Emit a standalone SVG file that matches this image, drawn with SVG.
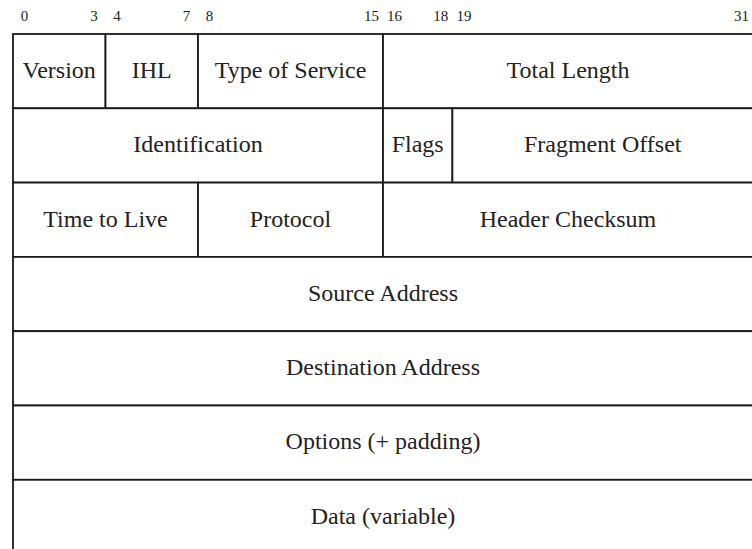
<svg xmlns="http://www.w3.org/2000/svg" width="752" height="549" viewBox="0 0 752 549">
<style>
.cell{fill:#ffffff;stroke:#1a1a1a;stroke-width:1.8}
.lbl{font-family:"Liberation Serif","DejaVu Serif",serif;font-size:24px;fill:#222222;text-anchor:middle}
.bit{font-family:"Liberation Serif","DejaVu Serif",serif;font-size:15px;fill:#222222;text-anchor:middle}
</style>
<rect x="0" y="0" width="752" height="549" fill="#ffffff"/>
<g id="bit-numbers">
<text class="bit" x="24.6" y="21">0</text>
<text class="bit" x="94" y="21">3</text>
<text class="bit" x="117" y="21">4</text>
<text class="bit" x="186.4" y="21">7</text>
<text class="bit" x="209.6" y="21">8</text>
<text class="bit" x="371.4" y="21">15</text>
<text class="bit" x="394.5" y="21">16</text>
<text class="bit" x="440.8" y="21">18</text>
<text class="bit" x="463.9" y="21">19</text>
<text class="bit" x="741.4" y="21">31</text>
</g>
<g id="version"><rect class="cell" x="13" y="34" width="92.5" height="74.3"/><text class="lbl" x="59.2" y="78">Version</text></g>
<g id="ihl"><rect class="cell" x="105.5" y="34" width="92.5" height="74.3"/><text class="lbl" x="151.8" y="78">IHL</text></g>
<g id="tos"><rect class="cell" x="198" y="34" width="185" height="74.3"/><text class="lbl" x="290.5" y="78">Type of Service</text></g>
<g id="total-length"><rect class="cell" x="383" y="34" width="370" height="74.3"/><text class="lbl" x="568" y="78">Total Length</text></g>
<g id="identification"><rect class="cell" x="13" y="108.3" width="370" height="74.3"/><text class="lbl" x="198" y="152.3">Identification</text></g>
<g id="flags"><rect class="cell" x="383" y="108.3" width="69.4" height="74.3"/><text class="lbl" x="417.7" y="152.3">Flags</text></g>
<g id="fragment-offset"><rect class="cell" x="452.4" y="108.3" width="300.6" height="74.3"/><text class="lbl" x="602.7" y="152.3">Fragment Offset</text></g>
<g id="ttl"><rect class="cell" x="13" y="182.6" width="185" height="74.3"/><text class="lbl" x="105.5" y="226.6">Time to Live</text></g>
<g id="protocol"><rect class="cell" x="198" y="182.6" width="185" height="74.3"/><text class="lbl" x="290.5" y="226.6">Protocol</text></g>
<g id="header-checksum"><rect class="cell" x="383" y="182.6" width="370" height="74.3"/><text class="lbl" x="568" y="226.6">Header Checksum</text></g>
<g id="source-address"><rect class="cell" x="13" y="256.9" width="740" height="74.3"/><text class="lbl" x="383" y="300.9">Source Address</text></g>
<g id="destination-address"><rect class="cell" x="13" y="331.2" width="740" height="74.3"/><text class="lbl" x="383" y="375.2">Destination Address</text></g>
<g id="options"><rect class="cell" x="13" y="405.5" width="740" height="74.3"/><text class="lbl" x="383" y="449.3">Options (+ padding)</text></g>
<g id="data"><rect class="cell" x="13" y="479.8" width="740" height="90"/><text class="lbl" x="383" y="523.5">Data (variable)</text></g>
<g id="connectors"></g>
</svg>
